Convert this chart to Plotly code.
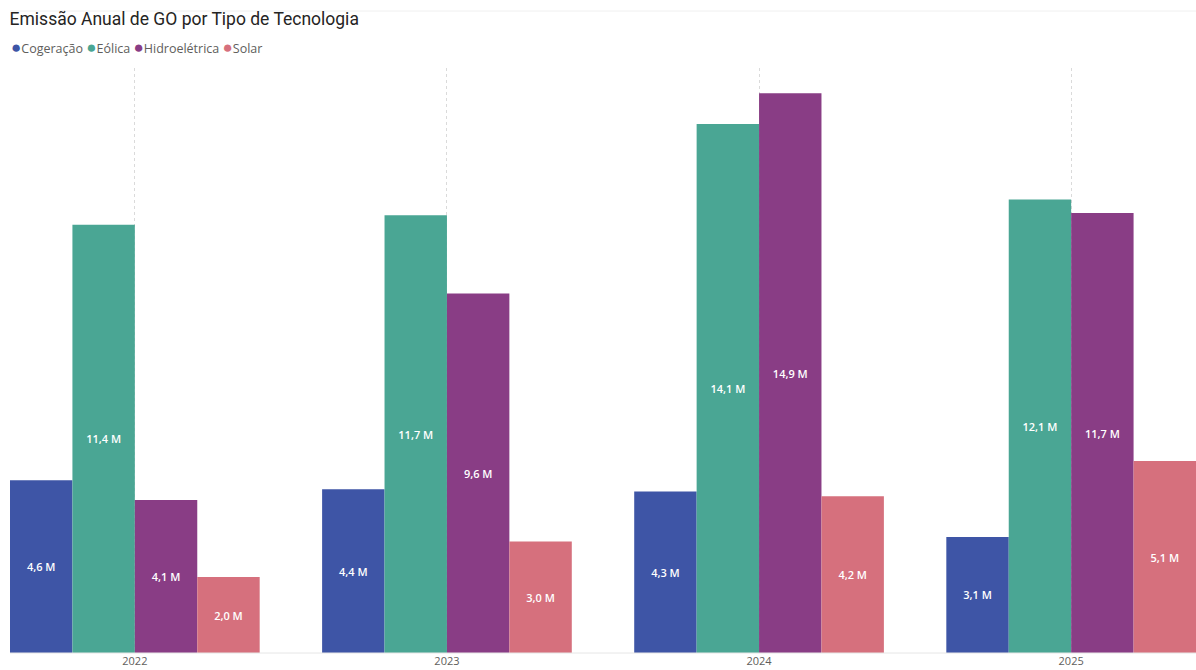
import plotly.graph_objects as go

years = ["2022", "2023", "2024", "2025"]
series_names = ["Cogeração", "Eólica", "Hidroelétrica", "Solar"]
cogeracao = [4.60, 4.36, 4.30, 3.09]
eolica = [11.40, 11.65, 14.08, 12.07]
hidroeletrica = [4.07, 9.57, 14.90, 11.71]
solar = [2.02, 2.97, 4.17, 5.11]
colors = ["#3E55A6", "#4AA694", "#893D85", "#D6707D"]

series_values = [cogeracao, eolica, hidroeletrica, solar]

def fmt(v):
    return f"{v:.1f}".replace(".", ",") + " M"

fig = go.Figure()
for name, vals, col in zip(series_names, series_values, colors):
    fig.add_trace(go.Bar(
        x=years, y=vals, name=name, marker=dict(color=col, line=dict(width=0)),
        text=[fmt(v) for v in vals], textposition="inside", insidetextanchor="middle",
        textfont=dict(color="white", size=11, family="Open Sans", weight=600),
        textangle=0, showlegend=False, hoverinfo="skip",
    ))

legend_text = " ".join(
    f"<span style='color:{c};font-size:17px'>●</span>{n}" for n, c in zip(series_names, colors)
)

fig.update_layout(
    width=1196, height=670,
    margin=dict(l=10, r=0, t=68, b=17),
    paper_bgcolor="white", plot_bgcolor="white",
    barmode="group", bargap=0.2, bargroupgap=0,
    showlegend=False,
    title=dict(text="Emissão Anual de GO por Tipo de Tecnologia", x=0.008, xanchor="left",
               y=1 - 19 / 670, yanchor="middle",
               font=dict(family="Roboto", size=17.5, color="#252423")),
    xaxis=dict(type="category", range=[-0.4, 3.4], showgrid=True, gridcolor="#DADADA",
               griddash="dot", gridwidth=1, ticks="", showline=False, zeroline=False,
               tickfont=dict(family="Open Sans", size=11, color="#605E5C")),
    yaxis=dict(range=[0, 15.57], visible=False, showgrid=False, zeroline=False),
    hovermode=False,
    annotations=[dict(
        text=legend_text, xref="paper", yref="paper", x=-0.0005, xanchor="left",
        y=1 + 21 / 585, yanchor="middle", showarrow=False,
        font=dict(family="Open Sans", size=12.5, color="#605E5C"),
    )],
)
fig.add_shape(type="line", xref="paper", yref="paper", x0=0, x1=1, y0=0, y1=0,
              line=dict(color="#E6E6E6", width=1))
fig.add_shape(type="line", xref="paper", yref="paper", x0=0, x1=1, y0=1 + 57 / 585, y1=1 + 57 / 585,
              line=dict(color="#F0F0F0", width=1))
fig.write_html("out.html")
